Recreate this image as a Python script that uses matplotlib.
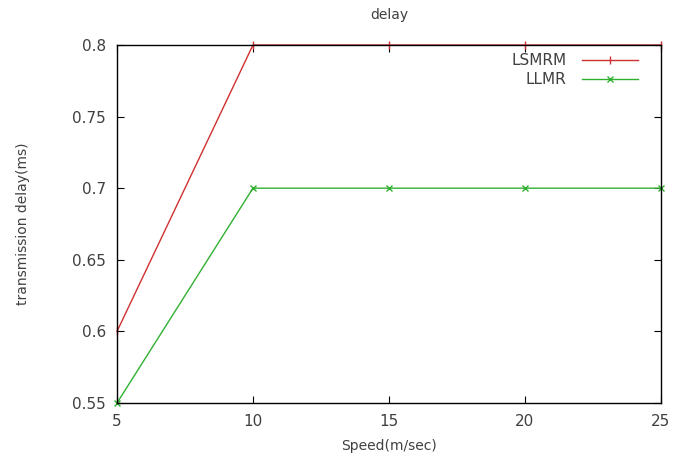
import matplotlib.pyplot as plt

# data
speed = [5, 10, 15, 20, 25]
lsmrm = [0.6, 0.8, 0.8, 0.8, 0.8]
llmr = [0.55, 0.7, 0.7, 0.7, 0.7]

xticks = [5, 10, 15, 20, 25]
yticks = [0.55, 0.6, 0.65, 0.7, 0.75, 0.8]

plt.rcParams['font.family'] = 'DejaVu Sans'
txt = '#404040'

fig = plt.figure(figsize=(6.85, 4.59), dpi=100)
ax = fig.add_axes([0.1708, 0.122, 0.794, 0.780])

ax.plot(speed, lsmrm, color='#d03030', lw=1, marker='|', ms=6, mew=1,
        label='LSMRM', clip_on=False)
ax.plot(speed, llmr, color='#30b030', lw=1, marker='x', ms=5, mew=1,
        label='LLMR', clip_on=False)

ax.set_xlim(5, 25)
ax.set_ylim(0.55, 0.8)
ax.set_xticks(xticks)
ax.set_xticklabels([str(v) for v in xticks])
ax.set_yticks(yticks)
ax.set_yticklabels(['0.55', '0.6', '0.65', '0.7', '0.75', '0.8'])

ax.tick_params(direction='in', top=True, right=True, length=5, width=0.8,
               labelsize=11, colors='black', labelcolor=txt, pad=8)
for s in ax.spines.values():
    s.set_linewidth(1)
    s.set_color('black')

ax.set_title('delay', fontsize=10, color=txt, pad=19)
ax.set_xlabel('Speed(m/sec)', fontsize=10, color=txt, labelpad=7)
ax.set_ylabel('transmission delay(ms)', fontsize=10, color=txt, labelpad=30)

ax.legend(loc='upper right', frameon=False, markerfirst=False, fontsize=11,
          handlelength=3.7, handletextpad=1.0, labelcolor=txt,
          borderaxespad=0.0, labelspacing=0.3, bbox_to_anchor=(0.97, 0.995))

fig.savefig('out.png', dpi=100)
